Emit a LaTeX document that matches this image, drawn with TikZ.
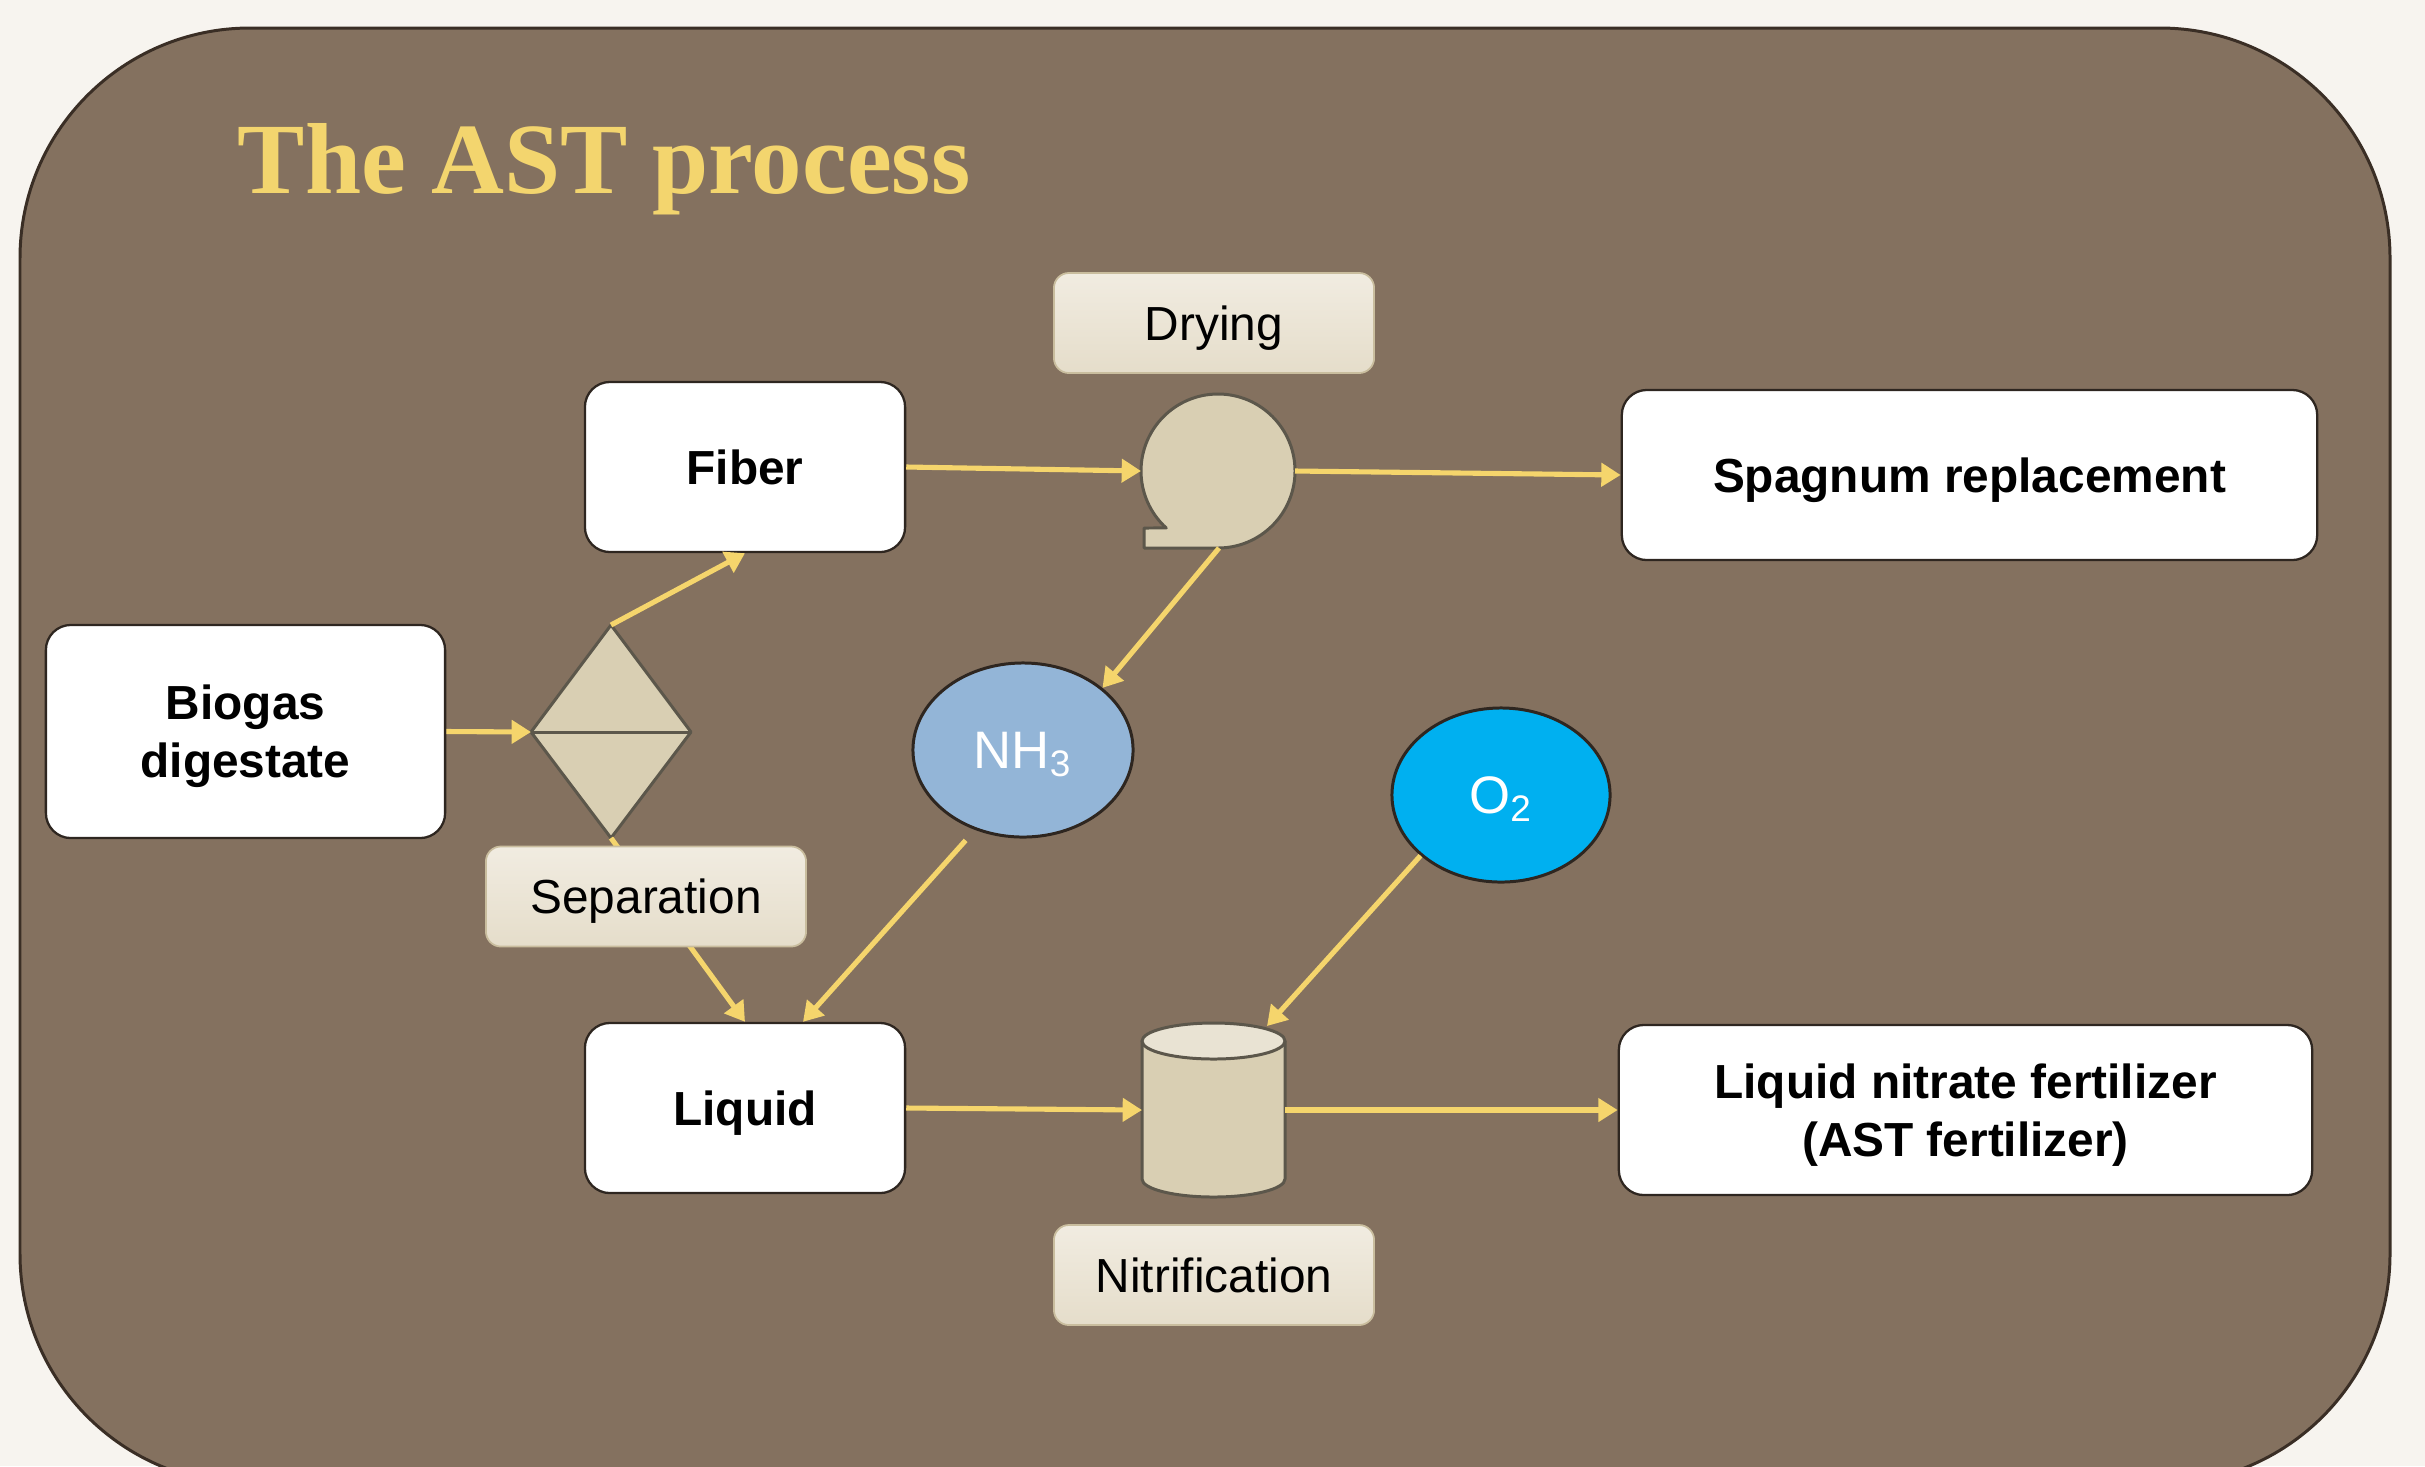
\documentclass[tikz,border=0pt]{standalone}
\usepackage{fontspec}
\setmainfont{Liberation Sans}
\newfontfamily\titlefont{Liberation Serif}
\usetikzlibrary{arrows.meta,calc,shapes.geometric}
\definecolor{bgout}{HTML}{F7F4EF}
\definecolor{panel}{HTML}{84715F}
\definecolor{panelline}{HTML}{3A2E25}
\definecolor{ttl}{HTML}{F3D56E}
\definecolor{flow}{HTML}{F5D56C}
\definecolor{unit}{HTML}{D9CFB3}
\definecolor{unitline}{HTML}{5C574B}
\definecolor{unittop}{HTML}{E9E3D3}
\definecolor{lbltop}{HTML}{F1ECE1}
\definecolor{lblbot}{HTML}{E5DDCA}
\definecolor{lblline}{HTML}{C9BD9E}
\definecolor{boxline}{HTML}{2E2620}
\definecolor{nhfill}{HTML}{93B5D7}
\definecolor{ofill}{HTML}{00B0F0}
\begin{document}
\begin{tikzpicture}[x=0.01cm,y=-0.01cm,
  flowarrow/.style={draw=flow, line width=1.45pt, -{Triangle[length=5.5pt,width=6.5pt]}},
  procbox/.style={draw=boxline, fill=white, line width=0.65pt, rounded corners=0.25cm,
    minimum width=3.2cm, minimum height=1.7cm, font=\fontsize{13.6}{16.5}\selectfont\bfseries,
    align=center, inner sep=0pt, text depth=0pt},
  stagelabel/.style={draw=lblline, line width=0.5pt, top color=lbltop, bottom color=lblbot,
    rounded corners=0.15cm, minimum width=3.2cm, minimum height=1.0cm,
    font=\fontsize{13.6}{16}\selectfont, inner sep=0pt, text depth=0pt},
  gasnode/.style={ellipse, draw=boxline, line width=0.85pt, minimum width=2.2cm,
    minimum height=1.74cm, text=white, font=\fontsize{15}{18}\selectfont, inner sep=0pt, text depth=0pt},
  unitshape/.style={fill=unit, draw=unitline, line width=0.85pt, line join=round}]

\fill[bgout] (0,0) rectangle (2425,1466);
\useasboundingbox (0,0) rectangle (2425,1466);
\clip (0,0) rectangle (2425,1466);

% panel
\draw[panelline, fill=panel, line width=0.85pt, rounded corners=2.3cm] (20,28) rectangle (2390,1484);

% title
\node[anchor=base west, text=ttl, font=\titlefont\bfseries\fontsize{28.7}{34}\selectfont, inner sep=0pt]
  (title) at (237,193) {The AST process};

% process boxes
\node[procbox] (fiber) at (745,467) {Fiber};
\node[procbox, minimum width=6.95cm] (spag) at (1969.5,475) {Spagnum replacement};
\node[procbox, minimum width=3.99cm, minimum height=2.13cm] (biogas) at (245.5,731.5) {Biogas\\digestate};
\node[procbox] (liquid) at (745,1108) {Liquid};
\node[procbox, minimum width=6.93cm] (fert) at (1965.5,1110) {Liquid nitrate fertilizer\\(AST fertilizer)};

% gas ellipses
\node[gasnode, fill=nhfill] (nh3) at (1023,750) {NH\textsubscript{3}};
\node[gasnode, fill=ofill, minimum width=2.18cm] (o2) at (1501,795) {O\textsubscript{2}};

% separator (diamond)
\draw[unitshape] (611,625) -- (691,732) -- (611,838) -- (531,732) -- cycle;
\draw[unitline, line width=0.85pt] (531,732) -- (691,732);
\coordinate (dT) at (611,625);
\coordinate (dL) at (531,732);
\coordinate (dB) at (611,838);

% dryer
\draw[unitshape] (1144,548) -- (1218,548) arc[start angle=90, end angle=-227.7, radius=77] -- (1144,528) -- cycle;
\coordinate (dryW) at (1141,471);
\coordinate (dryE) at (1295,471);
\coordinate (dryS) at (1219,548);

% nitrification tank
\draw[unitshape] (1142,1041) -- (1142,1179) arc[start angle=180, end angle=0, x radius=71.5, y radius=18] -- (1285,1041) -- cycle;
\draw[unitshape, fill=unittop] (1213.5,1041) ellipse [x radius=71.5, y radius=18];
\coordinate (cylW) at (1142,1110);
\coordinate (cylE) at (1285,1110);
\coordinate (cylT) at (1267,1026);
\coordinate (liqT) at ($(liquid.north)+(58,0)$);

% connectors
\draw[flowarrow] (biogas.east) -- (dL);
\draw[flowarrow] (dT) -- (fiber.south);
\draw[flowarrow] (dB) -- (liquid.north);
\draw[flowarrow] (fiber.east) -- (dryW);
\draw[flowarrow] (dryE) -- (spag.west);
\draw[flowarrow] (dryS) -- (nh3.38);
\draw[flowarrow, shorten <=0.14cm] (nh3.239) -- (liqT);
\draw[flowarrow] (o2.217) -- (cylT);
\draw[flowarrow] (liquid.east) -- (cylW);
\draw[flowarrow] (cylE) -- (fert.west);

% stage labels
\node[stagelabel] (drying) at (1214,323) {Drying};
\node[stagelabel] (separation) at (646,896.5) {Separation};
\node[stagelabel] (nitrification) at (1214,1275) {Nitrification};
\end{tikzpicture}
\end{document}
